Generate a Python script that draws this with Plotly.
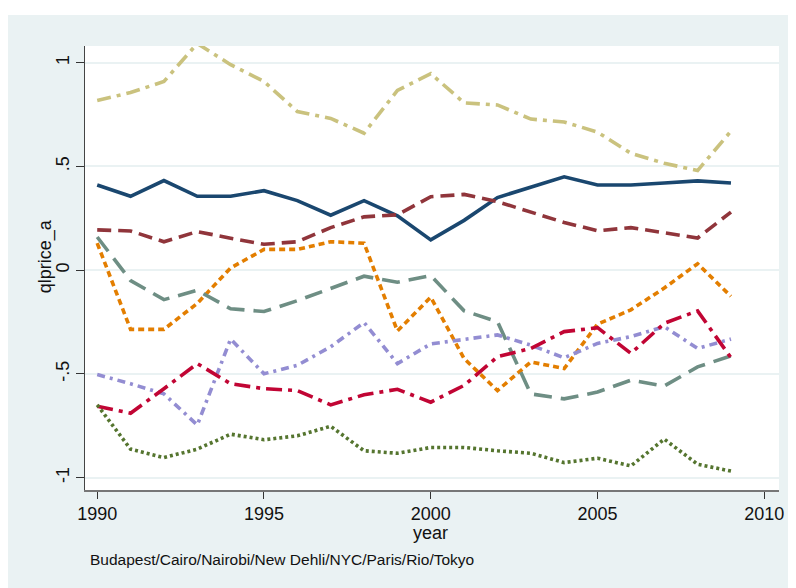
import plotly.graph_objects as go

years = list(range(1990, 2010))

navy = [0.41, 0.356, 0.432, 0.356, 0.356, 0.383, 0.335, 0.265, 0.335, 0.262,
        0.146, 0.24, 0.35, 0.40, 0.45, 0.41, 0.41, 0.42, 0.43, 0.42]
khaki = [0.817, 0.856, 0.909, 1.092, 0.99, 0.909, 0.764, 0.731, 0.66, 0.866,
         0.947, 0.806, 0.796, 0.728, 0.714, 0.665, 0.563, 0.515, 0.48, 0.67]
maroon = [0.194, 0.189, 0.137, 0.186, 0.154, 0.125, 0.137, 0.205, 0.257, 0.267,
          0.354, 0.365, 0.33, 0.28, 0.23, 0.19, 0.205, 0.18, 0.155, 0.28]
teal = [0.16, -0.05, -0.142, -0.097, -0.186, -0.199, -0.147, -0.089, -0.029, -0.058,
        -0.026, -0.196, -0.248, -0.596, -0.62, -0.587, -0.53, -0.558, -0.466, -0.413]
orange = [0.13, -0.285, -0.285, -0.16, 0.011, 0.10, 0.10, 0.137, 0.13, -0.293,
          -0.13, -0.426, -0.58, -0.442, -0.474, -0.26, -0.191, -0.086, 0.031, -0.126]
cranberry = [-0.655, -0.689, -0.571, -0.45, -0.547, -0.571, -0.58, -0.649, -0.60, -0.574,
             -0.636, -0.555, -0.417, -0.377, -0.296, -0.277, -0.401, -0.256, -0.196, -0.422]
lavender = [-0.503, -0.547, -0.596, -0.746, -0.332, -0.499, -0.458, -0.369, -0.252, -0.45,
            -0.355, -0.332, -0.312, -0.361, -0.422, -0.353, -0.32, -0.272, -0.377, -0.332]
green = [-0.649, -0.862, -0.903, -0.862, -0.79, -0.817, -0.798, -0.752, -0.87, -0.882,
         -0.854, -0.854, -0.87, -0.882, -0.927, -0.906, -0.943, -0.814, -0.935, -0.968]

series = [
    ("khaki", khaki, "#cac27e", "14px,6px,4px,6px"),
    ("navy", navy, "#1a476f", "solid"),
    ("maroon", maroon, "#90353b", "14px,7px"),
    ("orange", orange, "#e37e00", "6px,4px"),
    ("teal", teal, "#6e8e84", "18px,9px"),
    ("lavender", lavender, "#938dd2", "8px,5px,3px,5px"),
    ("cranberry", cranberry, "#c10534", "16px,6px,4px,6px"),
    ("green", green, "#55752f", "3px,3px"),
]

y_ticks = [-1, -0.5, 0, 0.5, 1]
y_tick_labels = ["-1", "-.5", "0", ".5", "1"]
x_ticks = [1990, 1995, 2000, 2005, 2010]
x_tick_labels = ["1990", "1995", "2000", "2005", "2010"]

fig = go.Figure()
for name, vals, col, dash in series:
    fig.add_trace(go.Scatter(x=years, y=vals, mode="lines", name=name,
                             line=dict(color=col, width=3.6, dash=dash)))

# the page body has an 8px margin; work in screen pixels and shift
OFF = 8
W, H = 796 - OFF, 588 - OFF
ml, mr, mt, mb = 85 - OFF, 796 - 784, 46 - OFF, 588 - 490
pw, ph = W - ml - mr, H - mt - mb

def px_to_paper_x(px):
    return (px - OFF - ml) / pw

def px_to_paper_y(py):
    return 1 - (py - OFF - mt) / ph

font = "Liberation Sans, Arial, sans-serif"

fig.update_layout(
    width=W, height=H,
    margin=dict(l=ml, r=mr, t=mt, b=mb),
    paper_bgcolor="#eaf2f3",
    plot_bgcolor="white",
    showlegend=False,
    font=dict(family=font, size=18, color="#111111"),
    xaxis=dict(range=[1989.634, 2010.44], tickvals=x_ticks, ticktext=x_tick_labels,
               showgrid=False, zeroline=False, showline=True, linecolor="#777777",
               linewidth=1.5, ticks="outside", ticklen=7, tickcolor="#333333",
               tickwidth=1, tickfont=dict(size=18, family=font),
               ticklabeloverflow="allow"),
    yaxis=dict(range=[-1.059, 1.08], tickvals=y_ticks, ticktext=y_tick_labels,
               showgrid=True, gridcolor="#eaf2f3", gridwidth=2, zeroline=False,
               showline=True, linecolor="#444444", linewidth=1.2, ticks="outside",
               ticklen=8, tickcolor="#333333", tickwidth=1, tickangle=-90,
               tickfont=dict(size=18, family=font)),
    shapes=[
        dict(type="rect", xref="paper", yref="paper",
             x0=px_to_paper_x(0), x1=px_to_paper_x(W + 20),
             y0=px_to_paper_y(15), y1=px_to_paper_y(0),
             fillcolor="white", line=dict(width=0)),
    ],
    annotations=[
        dict(text="qlprice_a", xref="paper", yref="paper",
             x=px_to_paper_x(45), y=px_to_paper_y(256), textangle=-90,
             showarrow=False, xanchor="center", yanchor="middle",
             font=dict(size=18, family=font)),
        dict(text="year", xref="paper", yref="paper",
             x=px_to_paper_x(433), y=px_to_paper_y(533),
             showarrow=False, xanchor="center", yanchor="middle",
             font=dict(size=18, family=font)),
        dict(text="Budapest/Cairo/Nairobi/New Dehli/NYC/Paris/Rio/Tokyo",
             xref="paper", yref="paper",
             x=px_to_paper_x(88), y=px_to_paper_y(559),
             showarrow=False, xanchor="left", yanchor="middle",
             font=dict(size=15.5, family=font)),
    ],
)

fig.write_html("out.html")
